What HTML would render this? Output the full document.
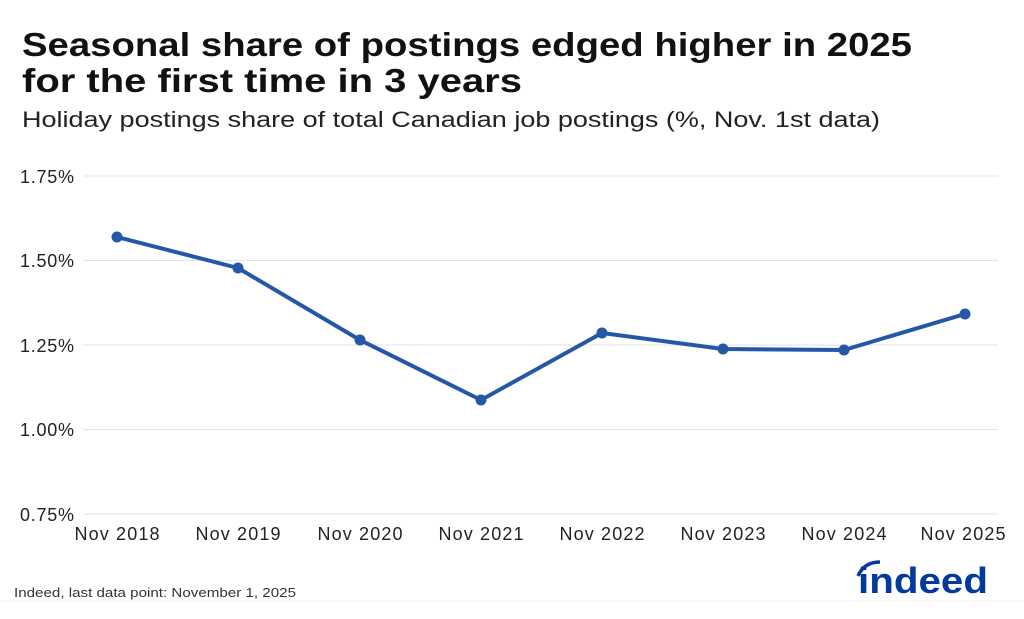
<!DOCTYPE html>
<html><head><style>
body{margin:0;width:1024px;height:614px;background:#fff;overflow:hidden;font-family:"Liberation Sans",sans-serif;}
</style></head><body>
<svg width="1024" height="614" xmlns="http://www.w3.org/2000/svg" font-family="Liberation Sans, sans-serif">
<text x="22" y="56" font-size="33" font-weight="bold" fill="#111" textLength="890" lengthAdjust="spacingAndGlyphs">Seasonal share of postings edged higher in 2025</text>
<text x="22" y="92" font-size="33" font-weight="bold" fill="#111" textLength="500" lengthAdjust="spacingAndGlyphs">for the first time in 3 years</text>
<text x="22" y="127" font-size="22" fill="#222" textLength="858" lengthAdjust="spacingAndGlyphs">Holiday postings share of total Canadian job postings (%, Nov. 1st data)</text>
<g stroke="#e3e3e3" stroke-width="1">
<line x1="83" x2="998" y1="176" y2="176"/>
<line x1="83" x2="998" y1="260.5" y2="260.5"/>
<line x1="83" x2="998" y1="345" y2="345"/>
<line x1="83" x2="998" y1="429.5" y2="429.5"/>
<line x1="83" x2="998" y1="514" y2="514"/>
</g>
<g font-size="18" fill="#222" text-anchor="end">
<text x="74" y="183" textLength="54">1.75%</text>
<text x="74" y="267" textLength="54">1.50%</text>
<text x="74" y="352" textLength="54">1.25%</text>
<text x="74" y="436" textLength="54">1.00%</text>
<text x="74" y="521" textLength="54">0.75%</text>
</g>
<g font-size="18" fill="#222" text-anchor="middle">
<text x="117" y="540" textLength="85">Nov 2018</text>
<text x="238" y="540" textLength="85">Nov 2019</text>
<text x="360" y="540" textLength="85">Nov 2020</text>
<text x="481" y="540" textLength="85">Nov 2021</text>
<text x="602" y="540" textLength="85">Nov 2022</text>
<text x="723" y="540" textLength="85">Nov 2023</text>
<text x="844" y="540" textLength="85">Nov 2024</text>
<text x="963" y="540" textLength="85">Nov 2025</text>
</g>
<polyline fill="none" stroke="#2557a7" stroke-width="4" stroke-linejoin="round" points="117,237 238,268 360,340 481,400 602,333 723,349 844,350 965,314"/>
<g fill="#2557a7">
<circle cx="117" cy="237" r="5.5"/><circle cx="238" cy="268" r="5.5"/><circle cx="360" cy="340" r="5.5"/><circle cx="481" cy="400" r="5.5"/><circle cx="602" cy="333" r="5.5"/><circle cx="723" cy="349" r="5.5"/><circle cx="844" cy="350" r="5.5"/><circle cx="965" cy="314" r="5.5"/>
</g>
<text x="14" y="597" font-size="13" fill="#333" textLength="282" lengthAdjust="spacingAndGlyphs">Indeed, last data point: November 1, 2025</text>
<path d="M858,576 Q864,562 880,562" fill="none" stroke="#003a9b" stroke-width="3.5"/>
<text x="858" y="593" font-size="36" font-weight="bold" fill="#003a9b" textLength="130" lengthAdjust="spacingAndGlyphs">indeed</text>
<line x1="0" x2="1024" y1="601" y2="601" stroke="#f0f0f0"/>
</svg>
</body></html>
